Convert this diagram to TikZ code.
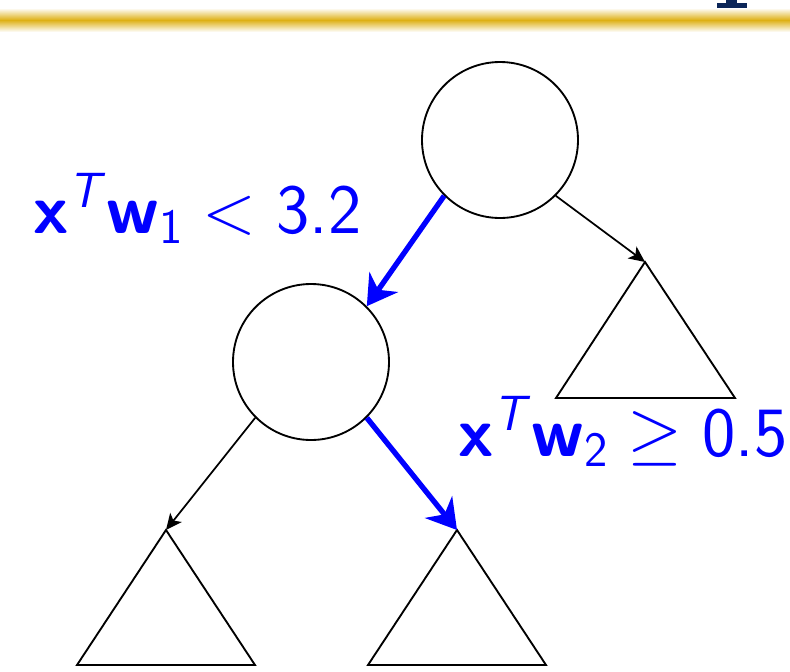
\documentclass[tikz,border=0pt]{standalone}
\usepackage{fix-cm}
\usepackage{amsmath}
\usetikzlibrary{arrows.meta}
\definecolor{gold}{RGB}{222,176,20}
\definecolor{navy}{RGB}{12,38,88}
\definecolor{pureblue}{RGB}{0,0,255}
\tikzset{
  circ/.style={circle, draw=black, line width=1.4pt, minimum size=117pt, inner sep=0pt},
  tri/.style={draw=black, line width=1.4pt, line join=miter},
  blk/.style={draw=black, line width=1.3pt, -{Stealth[length=12pt,width=11pt,inset=3pt]}},
  blu/.style={draw=pureblue, line width=4pt, -{Stealth[length=22pt,width=26pt,inset=7pt]}},
  lab/.style={text=pureblue, inner sep=0pt, font=\fontsize{53}{60}\selectfont}
}
\newcommand{\bsx}{\textsf{\bfseries x}}
\newcommand{\bsw}{\textsf{\bfseries w}}
\newcommand{\itT}{\textsf{\itshape T}}
\begin{document}
\begin{tikzpicture}[x=0.75pt,y=-0.75pt]
\useasboundingbox (0,0) rectangle (790,672);
% header band
\shade[top color=white,bottom color=gold] (0,8) rectangle (790,20);
\shade[top color=gold,bottom color=white] (0,20) rectangle (790,32);
\fill[navy] (717,3) rectangle (747,8);
\fill[navy] (726,0) rectangle (737,3);
% nodes
\node[circ] (root) at (500,140) {};
\node[circ] (left) at (311,362) {};
\coordinate (tR) at (645,262);
\coordinate (tL) at (166,530);
\coordinate (tM) at (457,530);
\draw[tri] (tR) -- (556,398) -- (735,398) -- cycle;
\draw[tri] (tL) -- (77,665) -- (255,665) -- cycle;
\draw[tri] (tM) -- (368,665) -- (546,665) -- cycle;
% connectors
\draw[blk] (root.south east) -- (tR);
\draw[blu] (root.south west) -- (left.north east);
\draw[blk] (left.south west) -- (tL);
\draw[blu] (left.south east) -- (tM);
% labels
\node[lab, anchor=base west] (l1) at (33,233) {$\bsx^{\itT}\mkern1.5mu\bsw_{\textsf{1}} < \textsf{3.2}$};
\node[lab, anchor=base west] (l2) at (458,456) {$\bsx^{\itT}\mkern1.5mu\bsw_{\textsf{2}} \geq \textsf{0.5}$};
\end{tikzpicture}
\end{document}
